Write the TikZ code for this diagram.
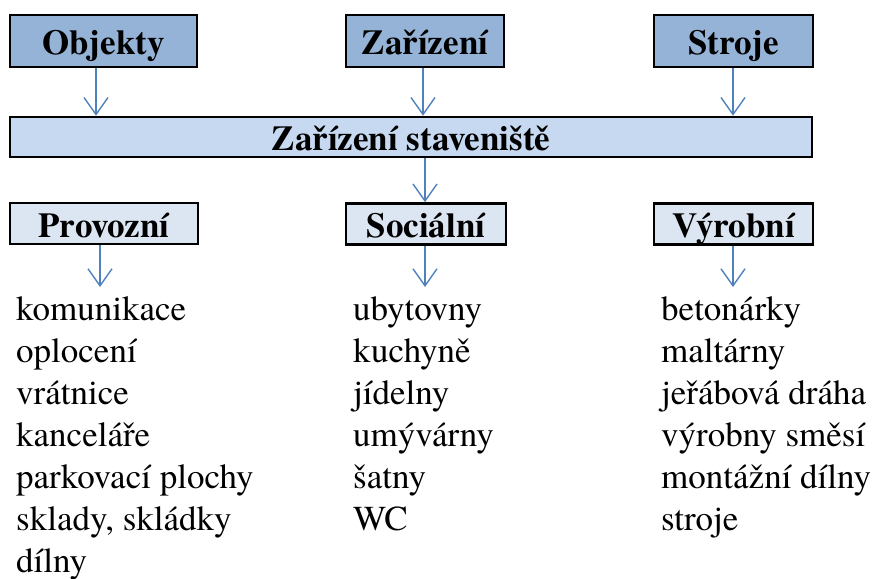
\documentclass[tikz,border=0pt]{standalone}
\usepackage{fontspec}
\setmainfont{texgyretermes}[Extension=.otf, UprightFont=*-regular, BoldFont=*-bold]
\usetikzlibrary{arrows.meta}
\definecolor{topfill}{HTML}{95B3D7}
\definecolor{barfill}{HTML}{C6D9F1}
\definecolor{botfill}{HTML}{DCE6F2}
\definecolor{arrcol}{HTML}{4F81BD}
\tikzset{
  hbox/.style={draw=black, line width=2.6pt, inner sep=0pt, font=\fontsize{35}{40}\selectfont\bfseries, text height=27pt, text depth=0pt},
  topbox/.style={hbox, fill=topfill, minimum height=52pt},
  barbox/.style={hbox, fill=barfill, minimum height=40pt, minimum width=802pt},
  botbox/.style={hbox, fill=botfill, minimum height=41pt},
  arr/.style={draw=arrcol, line width=1.4pt, -{Straight Barb[length=17pt, width=24pt, line width=1.4pt]}},
  item/.style={anchor=base west, inner sep=0pt, font=\fontsize{35}{40}\selectfont}
}
\begin{document}
\begin{tikzpicture}[x=1pt, y=-1pt]
\useasboundingbox (0,0) rectangle (874,578);
% top boxes
\node[topbox, minimum width=187pt] (obj) at (103.5,41) {Objekty};
\node[topbox, minimum width=158pt] (zar) at (425,41) {Zařízení};
\node[topbox, minimum width=159pt] (str) at (733.5,41) {Stroje};
% bar
\node[barbox] (bar) at (411,137) {Zařízení staveniště};
% bottom boxes
\node[botbox, minimum width=188pt] (pro) at (104,223.5) {Provozní};
\node[botbox, minimum width=160pt] (soc) at (426,224) {Sociální};
\node[botbox, minimum width=159pt] (vyr) at (733.5,224) {Výrobní};
% arrow x positions
\coordinate (a1) at (96,0);
\coordinate (a2) at (423,0);
\coordinate (a3) at (733,0);
\coordinate (a4) at (425,0);
\coordinate (a5) at (100,0);
\coordinate (e1) at (100,287);
\coordinate (e2) at (425,287);
\coordinate (e3) at (733,287);
\draw[arr] (obj.south -| a1) -- (bar.north -| a1);
\draw[arr] (zar.south -| a2) -- (bar.north -| a2);
\draw[arr] (str.south -| a3) -- (bar.north -| a3);
\draw[arr] (bar.south -| a4) -- (soc.north -| a4);
\draw[arr] (pro.south -| a5) -- (e1);
\draw[arr] (soc.south -| a4) -- (e2);
\draw[arr] (vyr.south -| a3) -- (e3);
% lists
\node[item] (p1) at (16,320) {komunikace};
\node[item] (p2) at (16,362) {oplocení};
\node[item] (p3) at (16,404) {vrátnice};
\node[item] (p4) at (16,446) {kanceláře};
\node[item] (p5) at (16,488) {parkovací plochy};
\node[item] (p6) at (16,530) {sklady, skládky};
\node[item] (p7) at (16,572) {dílny};
\node[item] (s1) at (353,320) {ubytovny};
\node[item] (s2) at (353,362) {kuchyně};
\node[item] (s3) at (353,404) {jídelny};
\node[item] (s4) at (353,446) {umývárny};
\node[item] (s5) at (353,488) {šatny};
\node[item] (s6) at (353,530) {WC};
\node[item] (v1) at (661,320) {betonárky};
\node[item] (v2) at (661,362) {maltárny};
\node[item] (v3) at (661,404) {jeřábová dráha};
\node[item] (v4) at (661,446) {výrobny směsí};
\node[item] (v5) at (661,488) {montážní dílny};
\node[item] (v6) at (661,530) {stroje};
\end{tikzpicture}
\end{document}
